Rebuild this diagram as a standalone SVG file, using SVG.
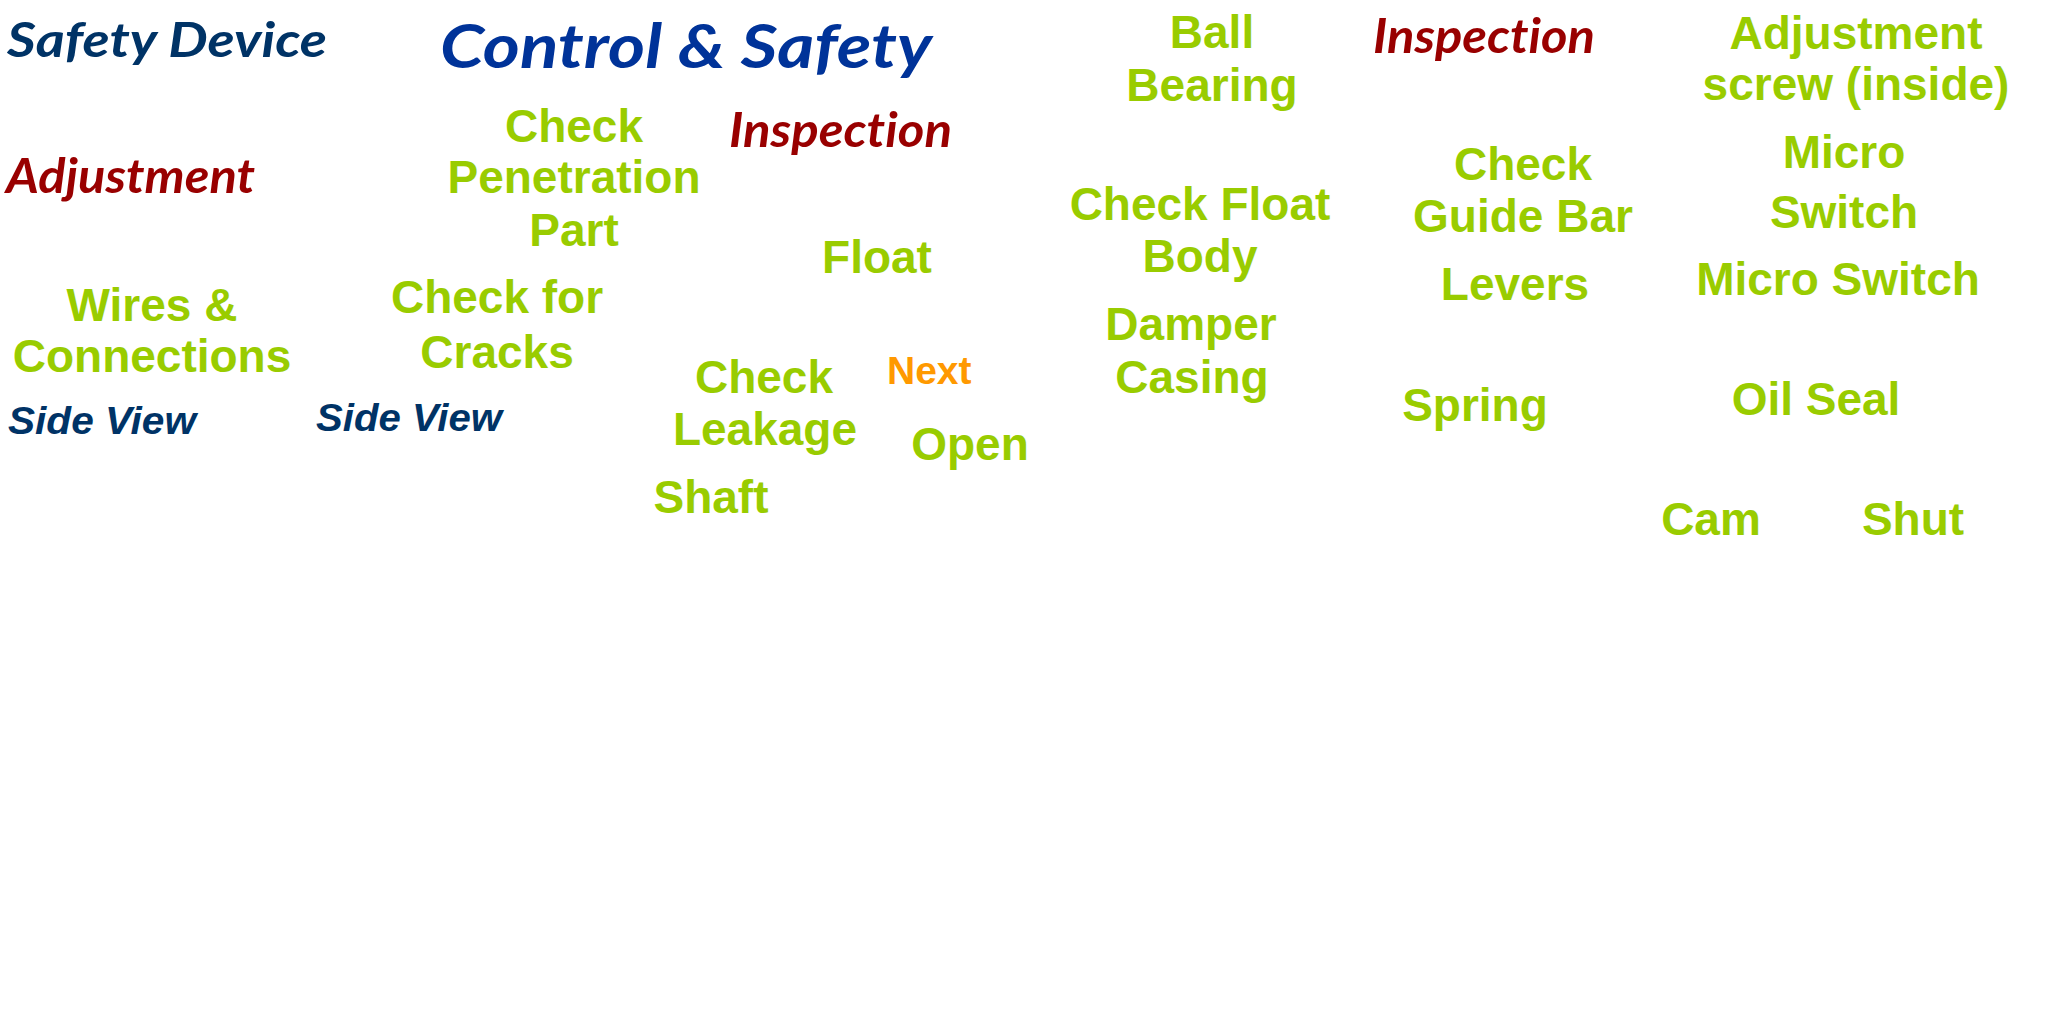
<svg xmlns="http://www.w3.org/2000/svg" width="2048" height="1024" viewBox="0 0 2048 1024">
<style>
.g{font-family:"Liberation Sans",Arial,sans-serif;font-weight:bold;font-size:46px;fill:#99CC00;text-anchor:middle}
.h{font-family:Lato,"Open Sans",sans-serif;font-weight:bold;font-style:italic;font-variant-ligatures:none;font-feature-settings:"liga" 0,"dlig" 0}
.navy{fill:#003366}
.blue{fill:#003399}
.red{fill:#990000}
.sv{font-family:"Liberation Sans",Arial,sans-serif;font-weight:bold;font-style:italic;font-size:39px;fill:#003366}
.next{font-family:"Liberation Sans",Arial,sans-serif;font-weight:bold;font-size:39px;fill:#FF9900}
</style>
<rect width="2048" height="1024" fill="#ffffff"/>
<g id="connectors"/>
<g id="safety-device"><text class="h navy" x="7" y="57" font-size="48" textLength="320" lengthAdjust="spacingAndGlyphs">Safety Device</text></g>
<g id="control-safety"><text class="h blue" x="440" y="68" font-size="62" textLength="492" lengthAdjust="spacingAndGlyphs">Control &amp; Safety</text></g>
<g id="adjustment"><text class="h red" x="6" y="193" font-size="47" textLength="249" lengthAdjust="spacingAndGlyphs">Adjustment</text></g>
<g id="inspection-1"><text class="h red" x="729" y="147" font-size="47" textLength="223" lengthAdjust="spacingAndGlyphs">Inspection</text></g>
<g id="inspection-2"><text class="h red" x="1373" y="53" font-size="47" textLength="222" lengthAdjust="spacingAndGlyphs">Inspection</text></g>
<g id="check-penetration"><text class="g" x="574" y="142">Check</text><text class="g" x="574" y="193">Penetration</text><text class="g" x="574" y="246">Part</text></g>
<g id="float"><text class="g" x="877" y="273">Float</text></g>
<g id="wires"><text class="g" x="152" y="321">Wires &amp;</text><text class="g" x="152" y="372">Connections</text></g>
<g id="check-cracks"><text class="g" x="497" y="313">Check for</text><text class="g" x="497" y="368">Cracks</text></g>
<g id="side-view-1"><text class="sv" x="8" y="434" textLength="188" lengthAdjust="spacingAndGlyphs">Side View</text></g>
<g id="side-view-2"><text class="sv" x="316" y="431" textLength="186" lengthAdjust="spacingAndGlyphs">Side View</text></g>
<g id="check-leakage"><text class="g" x="764" y="393">Check</text><text class="g" x="765" y="445">Leakage</text></g>
<g id="next"><text class="next" x="887" y="384">Next</text></g>
<g id="open"><text class="g" x="970" y="460">Open</text></g>
<g id="shaft"><text class="g" x="711" y="513">Shaft</text></g>
<g id="ball-bearing"><text class="g" x="1212" y="48">Ball</text><text class="g" x="1212" y="101">Bearing</text></g>
<g id="adjustment-screw"><text class="g" x="1856" y="49">Adjustment</text><text class="g" x="1856" y="100">screw (inside)</text></g>
<g id="check-float-body"><text class="g" x="1200" y="220">Check Float</text><text class="g" x="1200" y="272">Body</text></g>
<g id="check-guide-bar"><text class="g" x="1523" y="180">Check</text><text class="g" x="1523" y="232">Guide Bar</text></g>
<g id="micro-switch-1"><text class="g" x="1844" y="168">Micro</text><text class="g" x="1844" y="228">Switch</text></g>
<g id="levers"><text class="g" x="1515" y="300">Levers</text></g>
<g id="micro-switch-2"><text class="g" x="1838" y="295">Micro Switch</text></g>
<g id="damper-casing"><text class="g" x="1191" y="340">Damper</text><text class="g" x="1192" y="393">Casing</text></g>
<g id="spring"><text class="g" x="1475" y="421">Spring</text></g>
<g id="oil-seal"><text class="g" x="1816" y="415">Oil Seal</text></g>
<g id="cam"><text class="g" x="1711" y="535">Cam</text></g>
<g id="shut"><text class="g" x="1913" y="535">Shut</text></g>
</svg>
